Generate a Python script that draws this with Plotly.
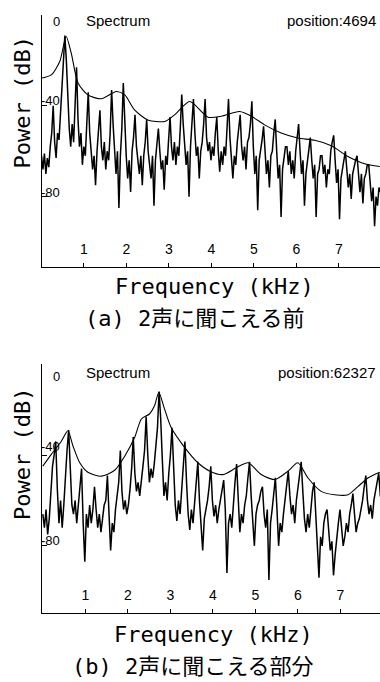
import numpy as np
import plotly.graph_objects as go

# ---------------- data ----------------
# panel (a): spectrum samples, bin width 0.034375 kHz (8 bins per harmonic, F0 ~ 0.275 kHz)
BIN_A = 0.034375
DB_A = [
    -62, -68, -61, -70, -63, -67, -58, -52,
    -40, -56, -63, -52, -55, -44, -36, -24,
    -9, -20, -36, -50, -58, -48, -56, -40,
    -23, -46, -58, -52, -66, -58, -62, -48,
    -34, -52, -60, -68, -62, -75, -60, -50,
    -42, -58, -64, -56, -68, -60, -64, -52,
    -33, -48, -62, -70, -60, -85, -62, -50,
    -30, -50, -62, -72, -64, -78, -60, -54,
    -44, -58, -64, -70, -62, -75, -62, -56,
    -46, -60, -66, -72, -62, -84, -64, -56,
    -50, -60, -68, -64, -77, -62, -66, -55,
    -45, -58, -64, -56, -66, -58, -62, -50,
    -35, -48, -58, -66, -60, -80, -58, -48,
    -37, -52, -62, -58, -72, -60, -56, -48,
    -37, -54, -60, -56, -64, -58, -62, -52,
    -45, -60, -69, -60, -66, -58, -62, -50,
    -37, -54, -64, -72, -62, -66, -56, -50,
    -44, -58, -64, -58, -68, -56, -54, -48,
    -38, -58, -70, -62, -86, -64, -60, -55,
    -49, -62, -70, -64, -76, -62, -60, -52,
    -46, -60, -72, -66, -89, -68, -64, -58,
    -58, -66, -60, -70, -64, -72, -60, -55,
    -48, -60, -70, -64, -84, -70, -64, -58,
    -54, -64, -72, -66, -89, -70, -68, -62,
    -62, -70, -66, -76, -68, -70, -60, -56,
    -53, -64, -74, -68, -90, -72, -68, -62,
    -60, -68, -76, -70, -81, -70, -66, -64,
    -62, -72, -78, -70, -83, -72, -70, -66,
    -66, -74, -82, -76, -93, -80, -84, -76,
    -78,
]
ENV_A_KHZ = [0, 0.23, 0.43, 0.58, 0.70, 0.86, 1.09, 1.41, 1.76, 1.96, 2.19, 2.50,
             2.90, 3.13, 3.49, 3.92, 4.23, 4.66, 4.94, 5.25, 5.64, 6.03, 6.43,
             6.82, 7.21, 7.60, 7.96]
ENV_A_DB = [-27.8, -26.4, -20.5, -9.5, -16.8, -30, -35.2, -36.9, -33.7, -35.2,
            -41.8, -46.2, -46.9, -44, -38.1, -45, -44.6, -42.5, -44.6, -48.4,
            -52, -54.2, -55.2, -57.6, -62.3, -65.5, -66.7]

# panel (b): spectrum samples, bin width 0.038 kHz (8 bins per harmonic, F0 ~ 0.304 kHz)
BIN_B = 0.038
DB_B = [
    -66, -72, -64, -75, -68, -58, -45, -40,
    -34, -55, -70, -60, -72, -62, -48, -38,
    -29, -45, -62, -66, -60, -70, -62, -56,
    -46, -70, -87, -66, -72, -62, -70, -64,
    -54, -64, -72, -66, -74, -68, -62, -60,
    -49, -66, -82, -70, -74, -64, -58, -52,
    -38, -56, -64, -60, -66, -62, -55, -46,
    -32, -48, -56, -52, -58, -50, -45, -38,
    -23, -40, -52, -46, -50, -44, -36, -28,
    -12, -24, -42, -58, -52, -60, -48, -40,
    -28, -48, -62, -69, -60, -66, -55, -46,
    -34, -52, -66, -73, -64, -70, -60, -52,
    -43, -60, -72, -82, -68, -64, -60, -54,
    -45, -60, -67, -62, -70, -64, -60, -55,
    -51, -64, -92, -70, -66, -72, -60, -52,
    -44, -58, -74, -66, -70, -62, -58, -50,
    -43, -58, -68, -80, -66, -62, -60, -56,
    -54, -66, -72, -64, -95, -70, -64, -58,
    -50, -64, -80, -70, -74, -66, -60, -54,
    -47, -58, -66, -62, -70, -60, -54, -50,
    -43, -56, -68, -74, -66, -72, -62, -56,
    -52, -66, -78, -94, -76, -80, -70, -66,
    -64, -74, -82, -78, -93, -84, -76, -70,
    -64, -72, -80, -76, -70, -74, -66, -62,
    -57, -66, -74, -70, -68, -64, -60, -54,
    -49, -60, -66, -62, -68, -60, -56, -52,
    -48, -58, -60,
]
ENV_B_KHZ = [0, 0.2, 0.44, 0.59, 0.71, 0.87, 1.06, 1.38, 1.69, 1.93, 2.16, 2.32,
             2.51, 2.63, 2.73, 2.85, 3.02, 3.34, 3.65, 3.93, 4.24, 4.55, 4.83,
             5.14, 5.46, 5.77, 6.0, 6.24, 6.55, 6.87, 7.18, 7.42, 7.65, 7.93]
ENV_B_DB = [-44.9, -39.7, -33.8, -29.3, -36, -43.4, -47.6, -49.3, -46.7, -40.4,
            -32.3, -24.1, -21.9, -18.2, -12.3, -18.9, -27.9, -36.7, -43.4, -47.1,
            -48.6, -45.6, -43.4, -48.6, -50.8, -47.1, -43.4, -50.1, -56, -57.5,
            -57.5, -53.8, -50.1, -47.6]

X_TICKS = [1, 2, 3, 4, 5, 6, 7]
Y_TICKS = [0, -40, -80]
Y_TICK_TEXT = ["0", "-40", "-80"]
POSITIONS = ["position:4694", "position:62327"]
CAPTIONS = ["(a) 2声に聞こえる前", "(b) 2声に聞こえる部分"]

# ---------------- figure ----------------
W, H = 380, 682


def px(x):
    return x / W


def py(y):
    return 1 - y / H


freq_a = np.arange(len(DB_A)) * BIN_A
freq_b = np.arange(len(DB_B)) * BIN_B

fig = go.Figure()
spec_style = dict(color="black", width=1.5)
env_style = dict(color="black", width=1.1, shape="spline", smoothing=0.7)
fig.add_trace(go.Scatter(x=freq_a, y=DB_A, mode="lines", line=spec_style,
                         xaxis="x", yaxis="y", showlegend=False, hoverinfo="skip"))
fig.add_trace(go.Scatter(x=ENV_A_KHZ, y=ENV_A_DB, mode="lines", line=env_style,
                         xaxis="x", yaxis="y", showlegend=False, hoverinfo="skip"))
fig.add_trace(go.Scatter(x=freq_b, y=DB_B, mode="lines", line=spec_style,
                         xaxis="x2", yaxis="y2", showlegend=False, hoverinfo="skip"))
fig.add_trace(go.Scatter(x=ENV_B_KHZ, y=ENV_B_DB, mode="lines", line=env_style,
                         xaxis="x2", yaxis="y2", showlegend=False, hoverinfo="skip"))

x_common = dict(
    domain=[px(42), 1], showgrid=False, zeroline=False,
    showline=True, linecolor="black", linewidth=1.4,
    tickvals=X_TICKS, ticks="inside", ticklen=4, tickcolor="black",
    ticklabelposition="inside", ticklabelstandoff=6,
    tickfont=dict(family="Liberation Sans, Arial, sans-serif", size=14, color="black"),
    fixedrange=True,
)
y_common = dict(
    showgrid=False, zeroline=False, showline=True, linecolor="black", linewidth=1.4,
    tickvals=Y_TICKS, ticks="inside", ticklen=5, tickcolor="black",
    showticklabels=False, fixedrange=True,
)

fig.update_layout(
    width=W, height=H, margin=dict(l=0, r=0, t=0, b=0),
    paper_bgcolor="white", plot_bgcolor="white",
    xaxis=dict(x_common, range=[0.012, 7.965], anchor="y"),
    yaxis=dict(y_common, range=[-111, 0], domain=[py(267), py(15)], anchor="x"),
    xaxis2=dict(x_common, range=[-0.019, 7.934], anchor="y2"),
    yaxis2=dict(y_common, range=[-109.6, 0], domain=[py(613), py(364.3)], anchor="x2"),
)

small = dict(family="Liberation Sans, Arial, sans-serif", size=15, color="black")
tickf = dict(family="Liberation Sans, Arial, sans-serif", size=13, color="black")
big = dict(family="DejaVu Sans Mono, Noto Sans CJK JP, monospace", size=22, color="black")

ann = []
# panel-specific text positions (pixels)
panels = [
    dict(top_text=21, tick_label_y=[22, 101, 193], power_y=102.5, freq_y=286,
         freq_x=214.5, cap_x=194.5, cap_y=318),
    dict(top_text=372.5, tick_label_y=[377, 446, 540], power_y=454, freq_y=634,
         freq_x=213, cap_x=192.5, cap_y=666),
]
for i, p in enumerate(panels):
    ann.append(dict(text="Spectrum", x=px(84), y=py(p["top_text"]), xanchor="left",
                    yanchor="middle", font=small))
    ann.append(dict(text=POSITIONS[i], x=px(378), y=py(p["top_text"]), xanchor="right",
                    yanchor="middle", font=small))
    for t, ly in zip(Y_TICK_TEXT, p["tick_label_y"]):
        ann.append(dict(text=t, x=px(62), y=py(ly), xanchor="right", yanchor="middle",
                        font=tickf))
    ann.append(dict(text="Power (dB)", x=px(22), y=py(p["power_y"]), textangle=-90,
                    xanchor="center", yanchor="middle", font=big))
    ann.append(dict(text="Frequency (kHz)", x=px(p["freq_x"]), y=py(p["freq_y"]),
                    xanchor="center", yanchor="middle", font=big))
    ann.append(dict(text=CAPTIONS[i], x=px(p["cap_x"]), y=py(p["cap_y"]),
                    xanchor="center", yanchor="middle", font=big))

for a in ann:
    a.update(xref="paper", yref="paper", showarrow=False)
fig.update_layout(annotations=ann)

fig.write_html("out.html")
